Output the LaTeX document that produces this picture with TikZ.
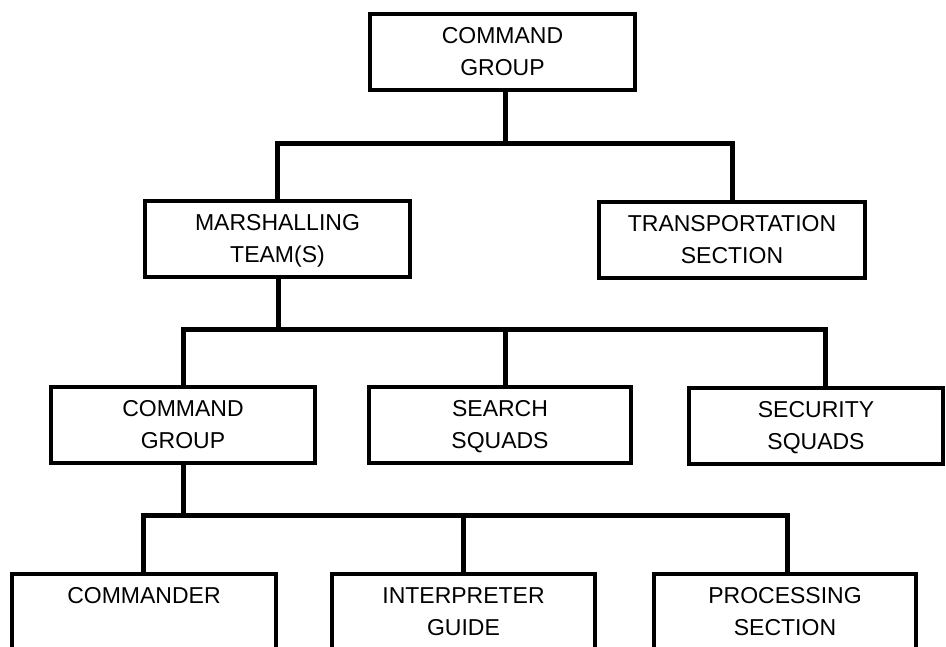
\documentclass[tikz,border=0pt]{standalone}
\usepackage{fontspec}
\setmainfont{Liberation Sans}
\begin{document}
\begin{tikzpicture}[x=1pt,y=-1pt,
  orgbox/.style={draw, line width=4.3pt, inner sep=0pt, anchor=north,
    align=center, text height=29pt, text depth=47pt,
    font=\fontsize{23}{32}\selectfont},
  openbox/.style={orgbox, text depth=120pt},
  link/.style={line width=5pt}]
\useasboundingbox (0,0) rectangle (946,647);
\clip (0,0) rectangle (946,647);

% top level
\node[orgbox, text width=265pt] (top) at (502.5,12) {COMMAND\\GROUP};

% second level
\node[orgbox, text width=265pt] (marsh) at (277.5,199) {MARSHALLING\\TEAM(S)};
\node[orgbox, text width=266pt] (trans) at (732,200) {TRANSPORTATION\\SECTION};

% third level
\node[orgbox, text width=264pt] (cg) at (183,385) {COMMAND\\GROUP};
\node[orgbox, text width=262pt] (search) at (500,385) {SEARCH\\SQUADS};
\node[orgbox, text width=254pt] (sec) at (816,386) {SECURITY\\SQUADS};

% bottom level (boxes run past the lower edge)
\node[openbox, text width=264pt] (cmdr) at (144,572) {COMMANDER};
\node[openbox, text width=263pt] (interp) at (463.5,572) {INTERPRETER\\GUIDE};
\node[openbox, text width=262pt] (proc) at (785,572) {PROCESSING\\SECTION};

% connectors
\coordinate (b1) at (505,144);
\draw[link] (top.south -| b1) -- (b1);
\draw[link] (marsh.north) |- (b1) -| (trans.north);

\coordinate (b2) at (278,330);
\draw[link] (marsh.south -| b2) -- (b2);
\draw[link] (cg.north) |- (b2) -| ([xshift=9pt]sec.north);
\draw[link] ([xshift=5pt]search.north) -- ([xshift=5pt]search.north |- b2);

\coordinate (b3) at (183,515);
\draw[link] (cg.south) -- (b3);
\draw[link] ([xshift=-1pt]cmdr.north) |- (b3) -| ([xshift=2pt]proc.north);
\draw[link] (interp.north) -- (interp.north |- b3);
\end{tikzpicture}
\end{document}
